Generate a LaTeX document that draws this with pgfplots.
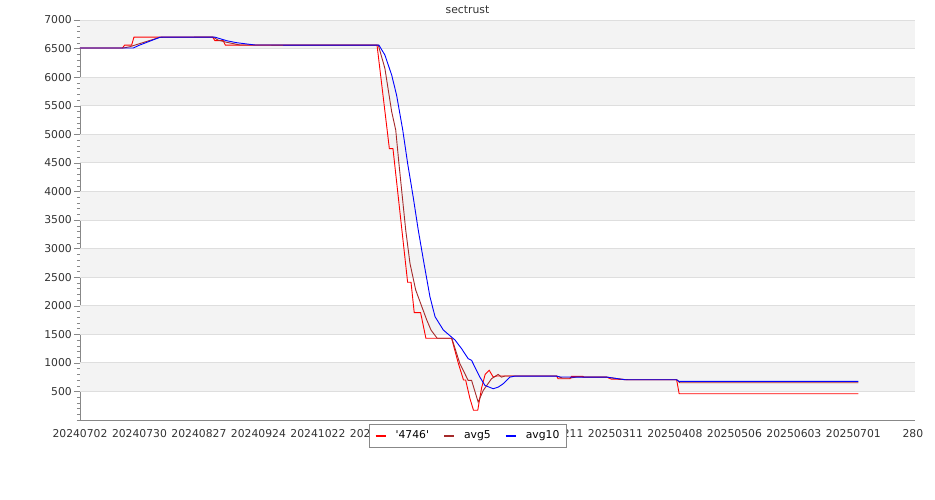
\documentclass[border=0pt]{standalone}
\usepackage{fontspec}
\setmainfont{DejaVu Sans}[Ligatures=TeXOff]
\usepackage{pgfplots}
\pgfplotsset{compat=1.18}
\definecolor{band}{RGB}{243,243,243}
\definecolor{gridc}{RGB}{222,222,222}
\definecolor{axc}{RGB}{136,136,136}
\definecolor{txt}{RGB}{51,51,51}
\definecolor{avgfive}{RGB}{165,42,42}
\begin{document}
\begin{tikzpicture}
\path[use as bounding box] (-80pt,-80pt) rectangle (855pt,420pt);
\node[font=\fontsize{10.8}{13}\selectfont, text=txt] at (387.5pt,410pt) {sectrust};
\begin{axis}[
  anchor=south west, scale only axis,
  width=835pt, height=400pt,
  xmin=0, xmax=393, ymin=0, ymax=7000,
  axis x line=bottom, axis y line=left,
  axis line style={-, draw=axc},
  xtick={0,28,...,392},
  xticklabels={20240702,20240730,20240827,20240924,20241022,20241119,20241217,20250114,20250211,20250311,20250408,20250506,20250603,20250701,280},
  xtick style={draw=none},
  ytick={500,1000,...,7000},
  minor ytick={0,100,...,7000},
  ytick style={draw=axc},
  tick align=outside,
  major tick length=6pt, minor tick length=3pt,
  /pgf/number format/assume math mode=true,
  /pgf/number format/1000 sep={},
  ticklabel style={font=\fontsize{10.8}{13}\selectfont, text=txt},
  xticklabel style={anchor=center, yshift=-8pt},
  yticklabel style={anchor=east, inner sep=0pt, xshift=-2pt},
  legend style={at={(0.4647,-0.0388)}, anchor=center, draw=axc, fill=white,
    font=\fontsize{10.8}{13}\selectfont, legend columns=-1,
    inner xsep=5pt, inner ysep=4.5pt,
    /tikz/every odd column/.append style={column sep=7pt},
    /tikz/every even column/.append style={column sep=12pt}},
  legend image code/.code={\draw[#1, line width=2pt] (0pt,0pt) -- (10pt,0pt);},
  every axis plot/.append style={line width=0.9pt},
]
\fill[band] (axis cs:0,6500) rectangle (axis cs:393,7000);
\fill[band] (axis cs:0,5500) rectangle (axis cs:393,6000);
\fill[band] (axis cs:0,4500) rectangle (axis cs:393,5000);
\fill[band] (axis cs:0,3500) rectangle (axis cs:393,4000);
\fill[band] (axis cs:0,2500) rectangle (axis cs:393,3000);
\fill[band] (axis cs:0,1500) rectangle (axis cs:393,2000);
\fill[band] (axis cs:0,500) rectangle (axis cs:393,1000);
\draw[gridc, line width=0.8pt] (axis cs:0,7000) -- (axis cs:393,7000);
\draw[gridc, line width=0.8pt] (axis cs:0,6500) -- (axis cs:393,6500);
\draw[gridc, line width=0.8pt] (axis cs:0,6000) -- (axis cs:393,6000);
\draw[gridc, line width=0.8pt] (axis cs:0,5500) -- (axis cs:393,5500);
\draw[gridc, line width=0.8pt] (axis cs:0,5000) -- (axis cs:393,5000);
\draw[gridc, line width=0.8pt] (axis cs:0,4500) -- (axis cs:393,4500);
\draw[gridc, line width=0.8pt] (axis cs:0,4000) -- (axis cs:393,4000);
\draw[gridc, line width=0.8pt] (axis cs:0,3500) -- (axis cs:393,3500);
\draw[gridc, line width=0.8pt] (axis cs:0,3000) -- (axis cs:393,3000);
\draw[gridc, line width=0.8pt] (axis cs:0,2500) -- (axis cs:393,2500);
\draw[gridc, line width=0.8pt] (axis cs:0,2000) -- (axis cs:393,2000);
\draw[gridc, line width=0.8pt] (axis cs:0,1500) -- (axis cs:393,1500);
\draw[gridc, line width=0.8pt] (axis cs:0,1000) -- (axis cs:393,1000);
\draw[gridc, line width=0.8pt] (axis cs:0,500) -- (axis cs:393,500);
\addplot[red] coordinates {(0,6510) (20,6510) (21,6560) (24.3,6560) (25.4,6700) (62.4,6700) (63.5,6640) (67.4,6640) (68.4,6560) (139.8,6560) (145.6,4750) (147.3,4750) (154.2,2410) (155.8,2410) (157.3,1880) (160.3,1880) (162.8,1430) (174.9,1430) (178,1000) (180.5,700) (181.5,700) (183.5,380) (185.2,170) (187.2,170) (189,560) (190.7,800) (192.6,870) (194.5,750) (196.1,770) (224.3,770) (225,722) (230.6,722) (231.3,763) (236.7,763) (237.3,750) (247.9,750) (250,716) (255.5,710) (256,705) (280.8,705) (282,460) (366.3,460)};
\addlegendentry{'4746'}
\addplot[avgfive] coordinates {(0,6510) (20.4,6510) (23.5,6533) (37.6,6697) (62.7,6700) (64.9,6650) (69,6610) (75.3,6562) (140.4,6560) (143.5,6153) (146.7,5394) (148.6,5075) (150.1,4492) (151.7,3908) (153.3,3325) (155.3,2742) (158,2275) (160.3,2042) (163.2,1750) (165.2,1575) (168.1,1430) (175,1430) (178.8,985) (182.7,693) (184.3,693) (187.4,313) (189.8,518) (193.7,723) (196.8,798) (198.4,750) (200,770) (224.3,770) (227,735) (231,735) (234,755) (237.5,750) (248,750) (255,712) (258,705) (280.8,705) (282.3,652) (366.3,652)};
\addlegendentry{avg5}
\addplot[blue] coordinates {(0,6510) (25.1,6510) (28,6560) (37.6,6697) (38.4,6700) (63.5,6700) (69,6638) (73.7,6603) (82.4,6562) (140.7,6560) (143.5,6387) (146.7,6036) (149,5686) (151.9,5075) (154.2,4492) (156.8,3907) (159.2,3325) (161.9,2742) (164.7,2158) (167.1,1808) (171,1575) (174.9,1450) (176.5,1400) (179.6,1248) (182.7,1073) (184.3,1043) (188.2,751) (190.6,605) (194.5,547) (196.8,575) (199.2,635) (202.4,751) (204.7,768) (224.3,768) (226,752) (248,750) (256.5,705) (280.8,705) (282,675) (366.3,675)};
\addlegendentry{avg10}
\end{axis}
\end{tikzpicture}
\end{document}
